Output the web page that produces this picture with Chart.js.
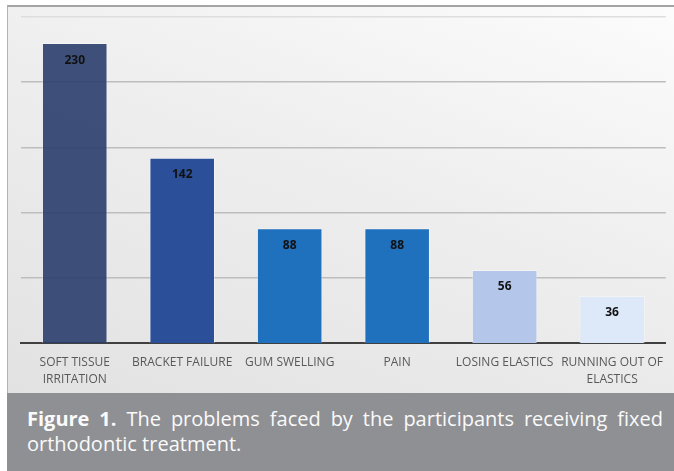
<!DOCTYPE html>
<html>
<head>
<meta charset="utf-8">
<script src="https://cdn.jsdelivr.net/npm/chart.js@4/dist/chart.umd.min.js"></script>
<style>
	html, body { margin: 0; padding: 0; background: #fff; }
	body { width: 674px; height: 471px; position: relative; overflow: hidden; }
	#frame {
		position: absolute; left: 7px; top: 5px; width: 667px; height: 388px;
		border-top: 2px solid #a4a4a4; border-left: 1px solid #b4b4b4;
		background: linear-gradient(200deg, #fcfcfc 0%, #eeeeee 45%, #e2e2e2 100%);
	}
	#wrap { position: absolute; left: 0; top: 0; width: 674px; height: 405px; }
	#caption {
		position: absolute; left: 7px; top: 393px; width: 667px; height: 78px;
		background: #8f9094; color: #fafafa; box-sizing: border-box;
		padding: 13px 11px 0 20px; font-family: "Open Sans", sans-serif;
		font-size: 20px; line-height: 25px;
	}
	#caption .l1 { text-align: justify; text-align-last: justify; }
</style>
</head>
<body>
<div id="frame"></div>
<div id="wrap"><canvas id="chart" width="674" height="405"></canvas></div>
<div id="caption">
	<div class="l1"><b>Figure 1.</b> The problems faced by the participants receiving fixed</div>
	<div>orthodontic treatment.</div>
</div>
<script>
// ===== Data =====
const categories = [
	["SOFT TISSUE", "IRRITATION"],
	"BRACKET FAILURE",
	"GUM SWELLING",
	"PAIN",
	"LOSING ELASTICS",
	["RUNNING OUT OF", "ELASTICS"],
];
const counts = [230, 142, 88, 88, 56, 36];
const barColors = ["rgba(42, 62, 108, 0.9)", "#2b5099", "#1f70bd", "#1f70bd", "#b4c7eb", "#dde9f8"];
const yMax = 250;
const yStep = 50;

// Draws the number inside the top of every bar
const valueLabels = {
	id: "valueLabels",
	afterDatasetsDraw(chart) {
		const ctx = chart.ctx;
		const meta = chart.getDatasetMeta(0);
		ctx.save();
		ctx.font = "bold 12px 'Open Sans'";
		ctx.fillStyle = "#111";
		ctx.textAlign = "center";
		ctx.textBaseline = "middle";
		meta.data.forEach((bar, i) => {
			ctx.fillText(counts[i], bar.x, bar.y + 17);
		});
		ctx.restore();
	},
};

const ctx = document.getElementById("chart").getContext("2d");
new Chart(ctx, {
	type: "bar",
	data: {
		labels: categories,
		datasets: [
			{
				data: counts,
				backgroundColor: barColors,
				borderColor: "rgba(255, 255, 255, 0.35)",
				borderWidth: 1,
				barPercentage: 0.61,
				categoryPercentage: 1,
			},
		],
	},
	options: {
		responsive: false,
		animation: false,
		layout: { padding: { left: 21, right: -3, top: 17, bottom: 6 } },
		plugins: {
			legend: { display: false },
			tooltip: { enabled: false },
		},
		scales: {
			x: {
				grid: { display: false, drawTicks: false },
				border: { color: "#404040", width: 2 },
				ticks: {
					color: "#595959",
					font: { family: "Open Sans", size: 12, lineHeight: "17px" },
					padding: 11,
					maxRotation: 0,
					autoSkip: false,
				},
			},
			y: {
				min: 0,
				max: yMax,
				ticks: { display: false, stepSize: yStep },
				border: { display: false },
				grid: {
					drawTicks: false,
					color: (c) => (c.tick && c.tick.value === yMax ? "#dedede" : "#bdbdbd"),
					lineWidth: (c) => (c.tick && c.tick.value === 0 ? 0 : 1.5),
				},
			},
		},
	},
	plugins: [valueLabels],
});
</script>
</body>
</html>
